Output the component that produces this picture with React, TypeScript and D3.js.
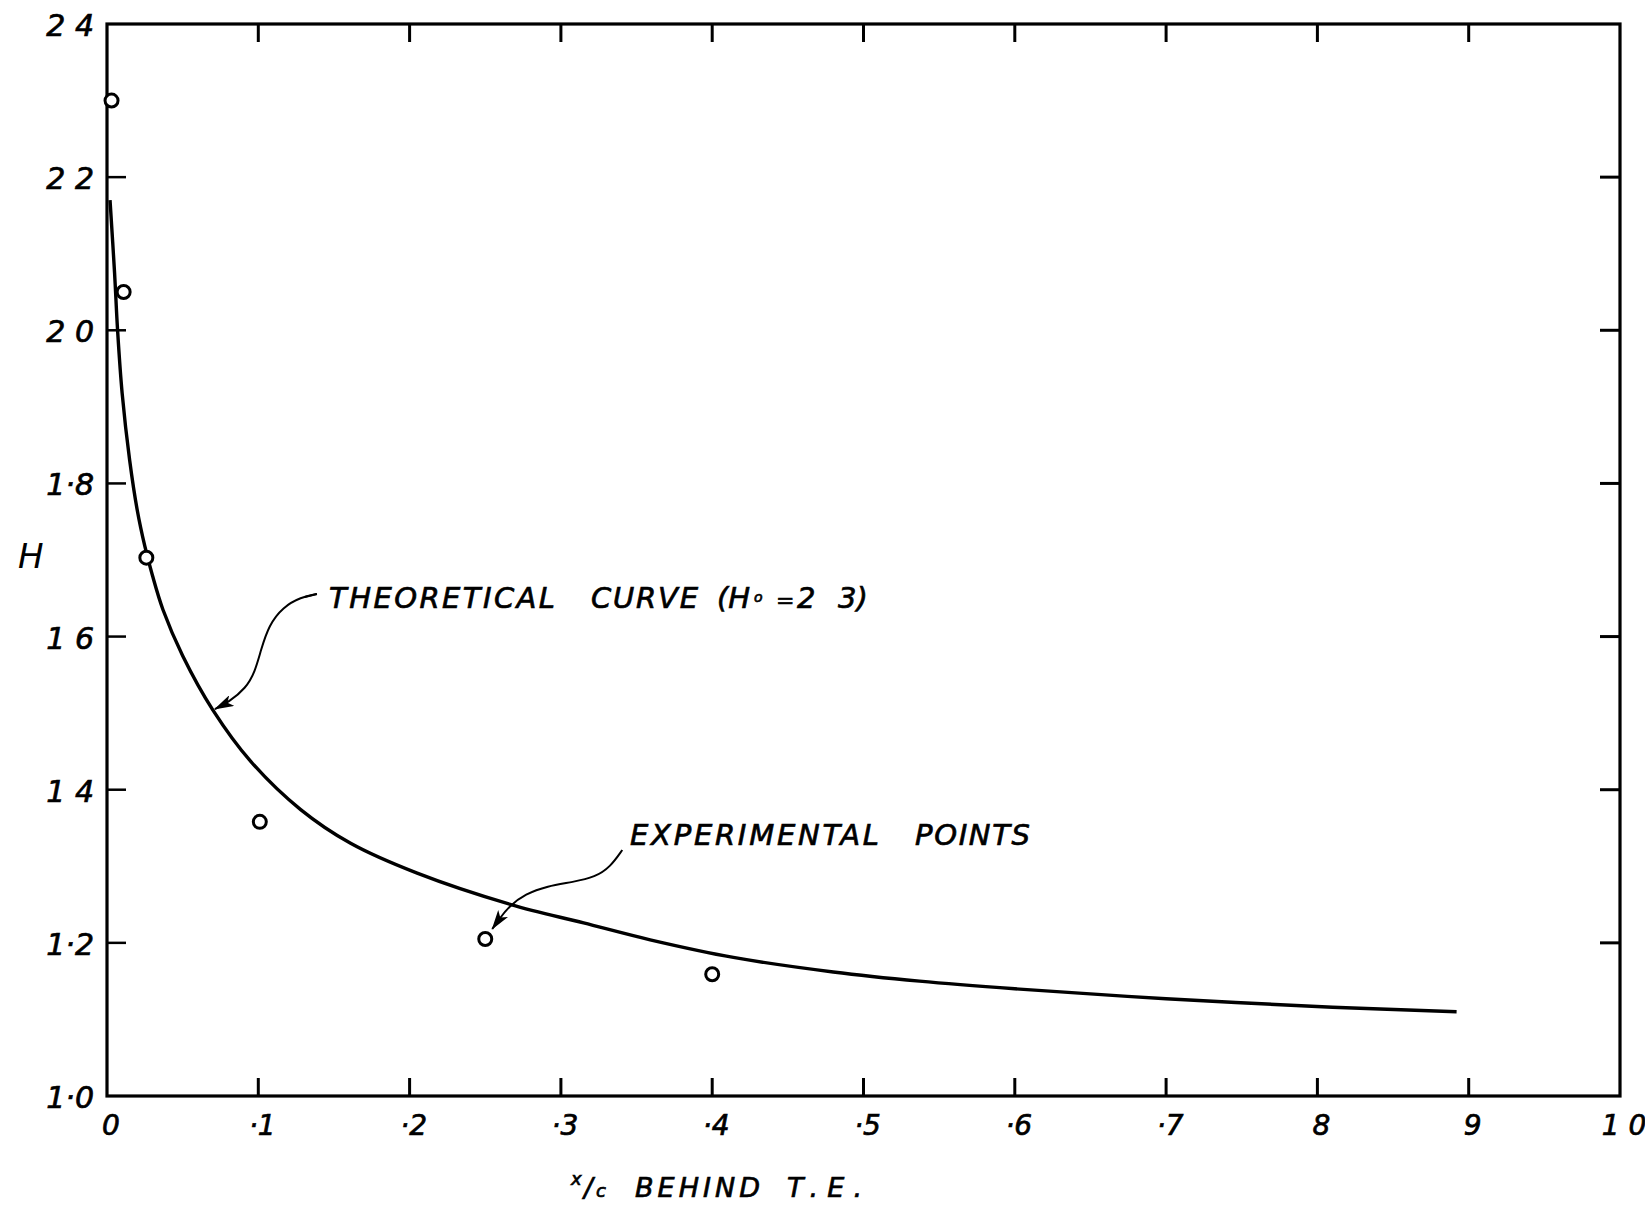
import React from 'react';
import * as d3 from 'd3';

// x/c behind trailing edge vs H
const xTickValues = [0.1, 0.2, 0.3, 0.4, 0.5, 0.6, 0.7, 0.8, 0.9];
const xLabelValues = [0, 0.1, 0.2, 0.3, 0.4, 0.5, 0.6, 0.7, 0.8, 0.9, 1.0];
const xTickLabels = ['0', '·1', '·2', '·3', '·4', '·5', '·6', '·7', '8', '9', '1 0'];
const yTickValues = [1.2, 1.4, 1.6, 1.8, 2.0, 2.2];
const yLabelValues = [1.0, 1.2, 1.4, 1.6, 1.8, 2.0, 2.2, 2.4];
const yTickLabels = ['1·0', '1·2', '1 4', '1 6', '1·8', '2 0', '2 2', '2 4'];

// theoretical curve (Ho = 2.3)
const curveX = [0.002, 0.005, 0.007, 0.010, 0.015, 0.020, 0.025, 0.030, 0.037, 0.050, 0.070, 0.095, 0.128, 0.161, 0.205, 0.267, 0.315, 0.359, 0.414, 0.480, 0.537, 0.600, 0.700, 0.810, 0.892];
const curveH = [2.17, 2.075, 2.00, 1.918, 1.83, 1.765, 1.718, 1.680, 1.635, 1.575, 1.504, 1.437, 1.374, 1.330, 1.291, 1.250, 1.226, 1.204, 1.181, 1.162, 1.150, 1.140, 1.127, 1.116, 1.110];

// experimental points
const pointX = [0.003, 0.011, 0.026, 0.101, 0.250, 0.400];
const pointH = [2.30, 2.05, 1.703, 1.358, 1.205, 1.159];

const W = 1645;
const H = 1205;
const font = '"DejaVu Sans", sans-serif';

export default function App() {
    const x = d3.scaleLinear().domain([0, 1]).range([107, 1620]);
    const y = d3.scaleLinear().domain([1, 2.4]).range([1096, 24]);

    const line = d3.line<number>()
        .x((d, i) => x(curveX[i]))
        .y(d => y(d))
        .curve(d3.curveCatmullRom.alpha(0.5));

    const arrow = d3.line<number[]>()
        .x(d => d[0])
        .y(d => d[1])
        .curve(d3.curveBasis);

    // arrow to the curve, tip sits on the curve at x = .07
    const tx = x(0.07), ty = y(1.504);
    const theoArrow = [[104, -116], [88, -113], [70, -103], [56, -85], [48, -60], [42, -38], [33, -22], [16, -8], [2, -1]]
        .map(p => [tx + p[0], ty + p[1]]);

    // arrow to the point at x = .25
    const px = x(pointX[4]), py = y(pointH[4]);
    const expArrow = [[137, -89], [125, -72], [110, -62], [88, -57], [62, -53], [40, -45], [24, -33], [14, -20], [7, -10]]
        .map(p => [px + p[0], py + p[1]]);

    const left = x(0), right = x(1), top = y(2.4), bottom = y(1);
    const ink = { fill: '#000', stroke: '#000', strokeWidth: 0.7 };

    return (
        <svg width={W} height={H} style={{ position: 'absolute', left: 0, top: 0, background: '#fff' }}
             fontFamily={font}>
            <defs>
                <marker id="head" markerUnits="userSpaceOnUse" viewBox="0 0 20 12"
                        markerWidth={20} markerHeight={12} refX={19} refY={6} orient="auto">
                    <path d="M0,0 L20,6 L0,12 L5,6 z" fill="#000" />
                </marker>
            </defs>
            <rect x={0} y={0} width={W} height={H} fill="#fff" />

            {/* frame */}
            <rect x={left} y={top} width={right - left} height={bottom - top}
                  fill="none" stroke="#000" strokeWidth={3.2} />

            {/* ticks, all pointing inward */}
            {xTickValues.map(v => (
                <g key={'xt' + v}>
                    <line x1={x(v)} x2={x(v)} y1={bottom} y2={bottom - 18} stroke="#000" strokeWidth={3} />
                    <line x1={x(v)} x2={x(v)} y1={top} y2={top + 18} stroke="#000" strokeWidth={3} />
                </g>
            ))}
            {yTickValues.map(v => (
                <g key={'yt' + v}>
                    <line x1={left} x2={left + 19} y1={y(v)} y2={y(v)} stroke="#000" strokeWidth={2.5} />
                    <line x1={right} x2={right - 20} y1={y(v)} y2={y(v)} stroke="#000" strokeWidth={3} />
                </g>
            ))}

            {/* tick labels */}
            {yLabelValues.map((v, i) => (
                <text key={'yl' + v} x={94} y={y(v) + 12} textAnchor="end" fontSize={30}
                      fontStyle="italic" {...ink}>{yTickLabels[i]}</text>
            ))}
            {xLabelValues.map((v, i) => (
                <text key={'xl' + v} x={x(v) + 4} y={1135} textAnchor="middle" fontSize={28}
                      fontStyle="italic" {...ink}>{xTickLabels[i]}</text>
            ))}

            {/* axis titles */}
            <text x={18} y={568} fontSize={34} fontStyle="italic" fill="#000">H</text>
            <text x={571} y={1185} fontSize={18} fontStyle="italic" {...ink}>x</text>
            <text x={584} y={1197} fontSize={26} fontStyle="italic" {...ink}>/</text>
            <text x={596} y={1197} fontSize={18} fontStyle="italic" {...ink}>c</text>
            <text y={1197} fontSize={27} fontStyle="italic" {...ink}>
                <tspan x={635} textLength={125} lengthAdjust="spacing">BEHIND</tspan>
                <tspan x={787} textLength={75} lengthAdjust="spacing">T.E.</tspan>
            </text>

            {/* theoretical curve */}
            <path d={line(curveH) || ''} fill="none" stroke="#000" strokeWidth={3.4} strokeLinejoin="round" />

            {/* experimental points */}
            {pointX.map((v, i) => (
                <circle key={'p' + i} cx={x(v)} cy={y(pointH[i])} r={6.5} fill="#fff" stroke="#000" strokeWidth={3} />
            ))}

            {/* annotations */}
            <path d={arrow(theoArrow as any) || ''} fill="none" stroke="#000" strokeWidth={2} markerEnd="url(#head)" />
            <line x1={tx + 92} x2={tx + 104} y1={ty - 113} y2={ty - 116} stroke="#000" strokeWidth={2} />
            <text y={608} fontSize={29} fontStyle="italic" {...ink}>
                <tspan x={329} textLength={226} lengthAdjust="spacing">THEORETICAL</tspan>
                <tspan x={591} textLength={107} lengthAdjust="spacing">CURVE</tspan>
                <tspan x={717}>(H</tspan>
                <tspan x={754} fontSize={14} dy={-6}>o</tspan>
                <tspan x={776} fontSize={22} dy={6}>=</tspan>
                <tspan x={797}>2</tspan>
                <tspan x={838}>3)</tspan>
            </text>

            <path d={arrow(expArrow as any) || ''} fill="none" stroke="#000" strokeWidth={2} markerEnd="url(#head)" />
            <text y={845} fontSize={29} fontStyle="italic" {...ink}>
                <tspan x={630} textLength={249} lengthAdjust="spacing">EXPERIMENTAL</tspan>
                <tspan x={915} textLength={115} lengthAdjust="spacing">POINTS</tspan>
            </text>
        </svg>
    );
}
